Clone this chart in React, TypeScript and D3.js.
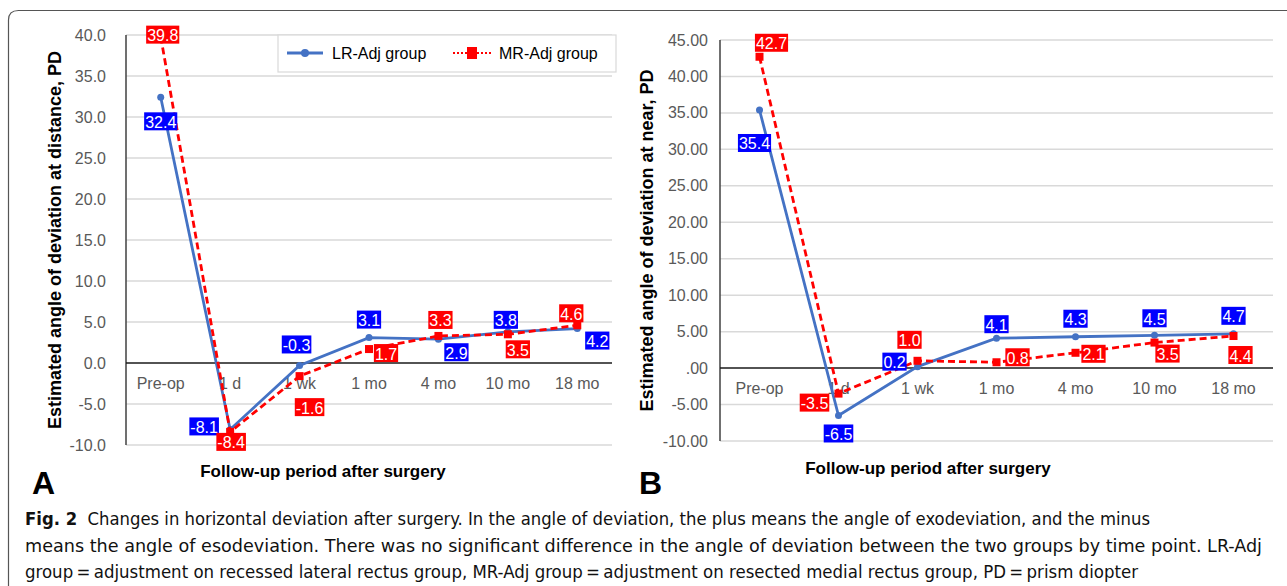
import React from "react";
import * as d3 from "d3";

// follow-up time points (shared by both panels)
const categories = ["Pre-op", "1 d", "1 wk", "1 mo", "4 mo", "10 mo", "18 mo"];

// panel A: deviation at distance, PD
const distanceLR = [32.4, -8.1, -0.3, 3.1, 2.9, 3.8, 4.2];
const distanceMR = [39.8, -8.4, -1.6, 1.7, 3.3, 3.5, 4.6];
const distanceTicks = [-10, -5, 0, 5, 10, 15, 20, 25, 30, 35, 40];

// panel B: deviation at near, PD
const nearLR = [35.4, -6.5, 0.2, 4.1, 4.3, 4.5, 4.7];
const nearMR = [42.7, -3.5, 1.0, 0.8, 2.1, 3.5, 4.4];
const nearTicks = [-10, -5, 0, 5, 10, 15, 20, 25, 30, 35, 40, 45];

const seriesNames = ["LR-Adj group", "MR-Adj group"];

// where each data label sits relative to its point (layout only)
const distanceLROffsets = [[0, 24], [-26, -3], [-3, -21], [0, -18], [18, 13], [-2, -12], [20, 12]];
const distanceMROffsets = [[2, -2], [1, 10], [10, 31], [17, 4], [2, -16], [10, 15], [-6, -12]];
const nearLROffsets = [[-5, 33], [0, 18], [-23, -5], [0, -14], [0, -18], [0, -17], [0, -18]];
const nearMROffsets = [[12, -14], [-24, 9], [-8, -21], [21, -5], [18, 1], [13, 11], [7, 19]];

const captionLines = [
  ["Fig. 2", "\u00a0\u00a0Changes in horizontal deviation after surgery. In the angle of deviation, the plus means the angle of exodeviation, and the minus"],
  ["", "means the angle of esodeviation. There was no significant difference in the angle of deviation between the two groups by time point. LR-Adj"],
  ["", "group\u2009=\u2009adjustment on recessed lateral rectus group, MR-Adj group\u2009=\u2009adjustment on resected medial rectus group, PD\u2009=\u2009prism diopter"],
];

const FONT = "'Liberation Sans', Arial, sans-serif";
const LR_COLOR = "#4472C4";
const MR_COLOR = "#FF0000";

let ctx: CanvasRenderingContext2D | null = null;
const textWidth = (s: string, size: number) => {
  if (!ctx) ctx = document.createElement("canvas").getContext("2d");
  if (!ctx) return s.length * size * 0.55;
  ctx.font = `${size}px 'Liberation Sans', Arial, sans-serif`;
  return ctx.measureText(s).width;
};

const Label = ({x, y, value, fill}) => {
  const txt = value.toFixed(1);
  const w = textWidth(txt, 16) + 2;
  const h = 18;
  return (
    <g>
      <rect x={x - w / 2} y={y - h / 2} width={w} height={h} fill={fill}/>
      <text x={x} y={y + 1} fill="#fff" fontSize={16} textAnchor="middle" dominantBaseline="central">{txt}</text>
    </g>
  );
};

const Panel = ({left, right, top, bottom, domain, ticks, tickFormat, tickEnd, lr, mr, lrOff, mrOff, yTitle, yTitleX, xTitleX, xTitleY, letter, letterX, legend}) => {
  const x = d3.scaleBand().domain(categories).range([left, right]).padding(0);
  const y = d3.scaleLinear().domain(domain).range([bottom, top]);
  const cx = (c) => x(c) + x.bandwidth() / 2;
  const line = d3.line<number>().x((d, i) => cx(categories[i])).y(d => y(d));

  return (
    <g fontFamily={FONT}>
      {ticks.map(t => (
        <g key={t}>
          {t !== 0 && <line x1={left} x2={right} y1={y(t)} y2={y(t)} stroke="#d9d9d9" strokeWidth={1.5}/>}
          <text x={tickEnd} y={y(t)} textAnchor="end" dominantBaseline="central" fontSize={16} fill="#595959">{tickFormat(t)}</text>
        </g>
      ))}
      <line x1={left} x2={left} y1={top} y2={bottom} stroke="#404040" strokeWidth={1.5}/>
      <line x1={left} x2={right} y1={y(0)} y2={y(0)} stroke="#1a1a1a" strokeWidth={1.5}/>
      {categories.map(c => (
        <text key={c} x={cx(c)} y={y(0) + 20} textAnchor="middle" dominantBaseline="central" fontSize={16} fill="#595959">{c}</text>
      ))}

      <path d={line(lr)} fill="none" stroke={LR_COLOR} strokeWidth={2.8}/>
      {lr.map((v, i) => <circle key={i} cx={cx(categories[i])} cy={y(v)} r={3.5} fill={LR_COLOR}/>)}
      <path d={line(mr)} fill="none" stroke={MR_COLOR} strokeWidth={2.8} strokeDasharray="7,4"/>
      {mr.map((v, i) => <rect key={i} x={cx(categories[i]) - 4} y={y(v) - 4} width={8} height={8} fill={MR_COLOR}/>)}

      {lr.map((v, i) => <Label key={"l" + i} x={cx(categories[i]) + lrOff[i][0]} y={y(v) + lrOff[i][1]} value={v} fill="#0000FF"/>)}
      {mr.map((v, i) => <Label key={"m" + i} x={cx(categories[i]) + mrOff[i][0]} y={y(v) + mrOff[i][1]} value={v} fill="#FF0000"/>)}

      <text transform={`translate(${yTitleX},${(top + bottom) / 2}) rotate(-90)`} textAnchor="middle" dominantBaseline="central"
            fontSize={18} fontWeight="bold" fill="#000">{yTitle}</text>
      <text x={xTitleX} y={xTitleY} textAnchor="middle" dominantBaseline="central" fontSize={17} fontWeight="bold" fill="#000">
        Follow-up period after surgery
      </text>
      <text x={letterX} y={494} fontSize={32} fontWeight="bold" fill="#000">{letter}</text>

      {legend && (
        <g>
          <rect x={278} y={35} width={338} height={37} fill="#fff" stroke="#d9d9d9" strokeWidth={1.2}/>
          <line x1={287} x2={323} y1={53} y2={53} stroke={LR_COLOR} strokeWidth={2.8}/>
          <circle cx={305} cy={53} r={4} fill={LR_COLOR}/>
          <text x={332} y={53} dominantBaseline="central" fontSize={16} fill="#000">{seriesNames[0]}</text>
          <line x1={453} x2={491} y1={53} y2={53} stroke={MR_COLOR} strokeWidth={2} strokeDasharray="2,2"/>
          <rect x={467} y={47} width={10} height={12} fill={MR_COLOR}/>
          <text x={499} y={53} dominantBaseline="central" fontSize={16} fill="#000">{seriesNames[1]}</text>
        </g>
      )}
    </g>
  );
};

export default function App() {
  return (
    <svg width={1287} height={586} style={{position: "absolute", left: 0, top: 0, background: "#fff"}}>
      <rect width={1287} height={586} fill="#fff"/>
      <path d="M8.5,600 L8.5,20 Q8.5,10.5 18.5,10.5 L1300,10.5" fill="none" stroke="#555" strokeWidth={1.2}/>

      <Panel left={126} right={612} top={35} bottom={445} domain={[-10, 40]} ticks={distanceTicks}
             tickFormat={(t) => t.toFixed(1)} tickEnd={106}
             lr={distanceLR} mr={distanceMR} lrOff={distanceLROffsets} mrOff={distanceMROffsets}
             yTitle="Estimated angle of deviation at distance, PD" yTitleX={55}
             xTitleX={323} xTitleY={471} letter="A" letterX={32} legend={true}/>

      <Panel left={720} right={1273} top={40} bottom={441} domain={[-10, 45]} ticks={nearTicks}
             tickFormat={(t) => (t === 0 ? ".00" : t.toFixed(2))} tickEnd={708}
             lr={nearLR} mr={nearMR} lrOff={nearLROffsets} mrOff={nearMROffsets}
             yTitle="Estimated angle of deviation at near, PD" yTitleX={647}
             xTitleX={928} xTitleY={468} letter="B" letterX={639} legend={false}/>

      <g fontFamily="'Liberation Sans Narrow', 'DejaVu Sans Condensed', 'Liberation Sans', sans-serif" fontSize={17} fill="#111">
        {captionLines.map((ln, i) => (
          <text key={i} x={25} y={525 + i * 26.5} textLength={[1125, 1237, 1113][i]} lengthAdjust="spacingAndGlyphs">
            {ln[0] && <tspan fontWeight="bold">{ln[0]}</tspan>}
            <tspan>{ln[1]}</tspan>
          </text>
        ))}
      </g>
    </svg>
  );
}
